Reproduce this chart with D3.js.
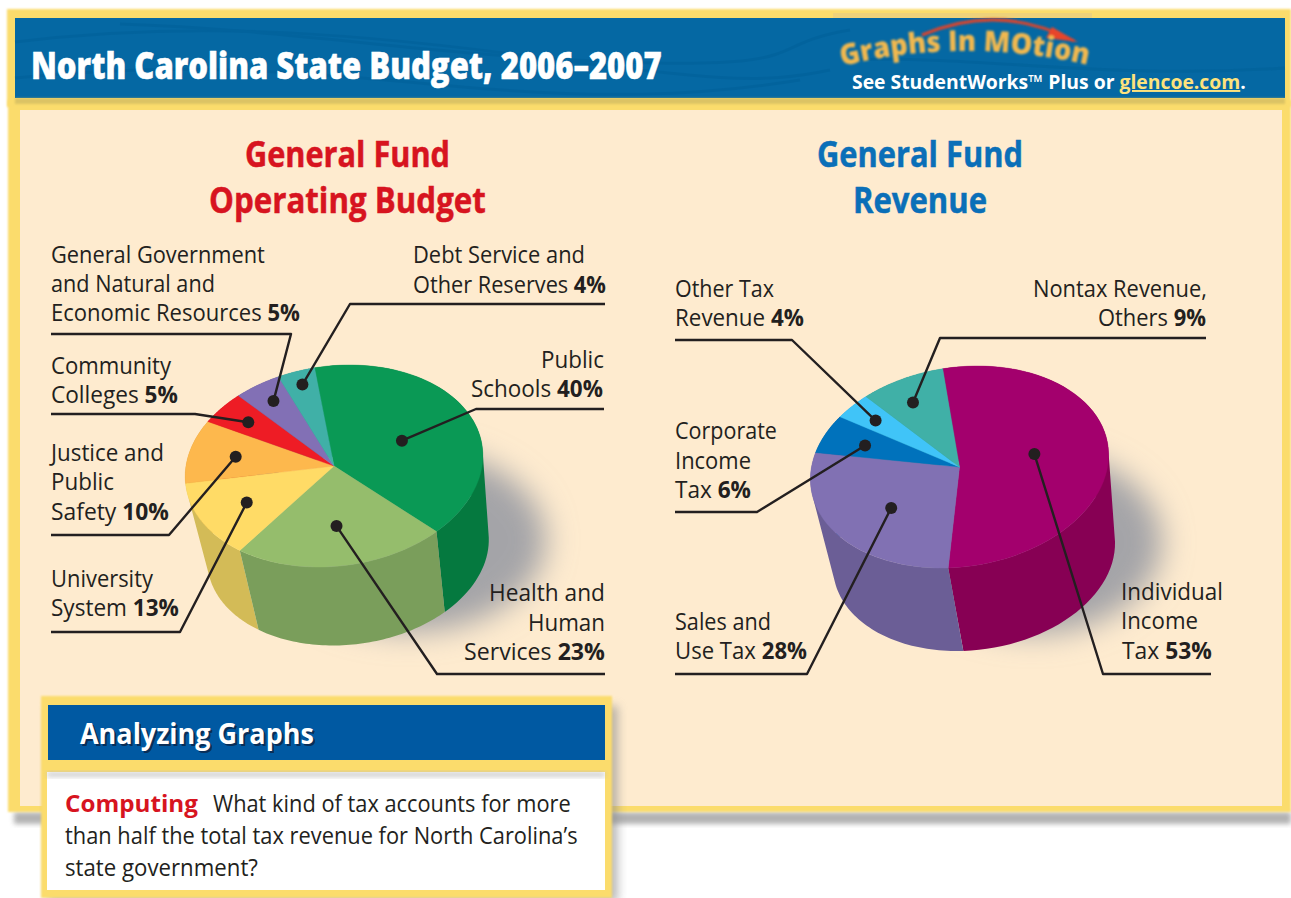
<!DOCTYPE html>
<html><head><meta charset="utf-8">
<script src="https://cdn.jsdelivr.net/npm/d3@7"></script>
<style>
html,body{margin:0;padding:0;background:#fff;overflow:hidden}
svg{display:block}
text{font-family:"Open Sans",sans-serif;fill:#231f20}
</style></head><body><svg id="c" width="1291" height="898"></svg>
<script>
// ---------- data ----------
const budgetCategories=["Public Schools","Health and Human Services","University System","Justice and Public Safety","Community Colleges","General Government and Natural and Economic Resources","Debt Service and Other Reserves"];
const budgetValues=[40,23,13,10,5,5,4];
const budgetColors=["#0a9955","#95bd6c","#ffdb66","#fdb84d","#ee1c25","#8270b5","#40b0a7"];
const budgetWalls=["#05793f","#7a9e5b","#d3bb57","#d0963e","#b5151c","#64578c","#308a83"];
const budgetLines=[["Public","Schools"],["Health and","Human","Services"],["University","System"],["Justice and","Public","Safety"],["Community","Colleges"],["General Government","and Natural and","Economic Resources"],["Debt Service and","Other Reserves"]];

const revenueCategories=["Individual Income Tax","Sales and Use Tax","Corporate Income Tax","Other Tax Revenue","Nontax Revenue, Others"];
const revenueValues=[53,28,6,4,9];
const revenueColors=["#a3006d","#8171b3","#0072bc","#40c4f8","#40b0a7"];
const revenueWalls=["#870054","#6b5e96","#005a96","#2f9cc8","#308a83"];
const revenueLines=[["Individual","Income","Tax"],["Sales and","Use Tax"],["Corporate","Income","Tax"],["Other Tax","Revenue"],["Nontax Revenue,","Others"]];

// ---------- layout ----------
const FS=23.5;
const budgetGeom={cx:334,cy:466,rx:148,ry:101,sk:15.5,bcx:348,bcy:550,brx:140,bry:95.5,bsk:15,start:-13.5,
  shadow:{cx:408,cy:540,rx:138,ry:92}};
const revenueGeom={cx:959.5,cy:467,rx:148,ry:101,sk:18,bcx:974,bcy:555,brx:140,bry:96,bsk:17,start:-13.4,
  shadow:{cx:1032,cy:542,rx:130,ry:92}};
// per slice: radial fraction and fraction along the slice's sweep for the leader dot; elbow and end of the rule
const budgetLeaders=[
 {r:.50,t:.51,path:[[476,409],[604,409]]},
 {r:.60,t:.506,path:[[437,674],[605,674]]},
 {r:.66,t:.50,path:[[180,632],[51,632]]},
 {r:.68,t:.49,path:[[169,535],[51,535]]},
 {r:.76,t:.48,path:[[195,414],[51,414]]},
 {r:.80,t:.52,path:[[291,334],[51,334]]},
 {r:.86,t:.53,path:[[350,304],[605,304]]}];
const revenueLeaders=[
 {r:.507,t:.465,path:[[1103,674],[1211,674]]},
 {r:.578,t:.477,path:[[807,674],[675,674]]},
 {r:.697,t:.44,path:[[757,512],[675,512]]},
 {r:.774,t:.46,path:[[792,340],[675,340]]},
 {r:.749,t:.44,path:[[940,338],[1206,338]]}];
// per slice, per line: [left, right, baseline]
const budgetBoxes=[
 [[541,604,368],[471,603,397]],
 [[489,605,601],[528,605,631],[464,605,660]],
 [[51,153,587],[51,179,616]],
 [[51,164,461],[51,114,490],[51,169,520]],
 [[51,171,374],[51,178,403]],
 [[51,265,263],[51,215,292],[51,300,321]],
 [[413,585,263],[413,606,293]]];
const revenueBoxes=[
 [[1121,1223,600],[1121,1198,629],[1122,1212,659]],
 [[675,771,630],[675,807,659]],
 [[675,777,439],[675,751,469],[675,751,498]],
 [[675,774,297],[675,804,326]],
 [[1033,1207,297],[1098,1206,326]]];

const svg=d3.select("#c");
const defs=svg.append("defs");
[["b1",.8],["b2",2.5],["b5",5],["b16",15],["bl",.8]].forEach(([id,s])=>{
  defs.append("filter").attr("id",id).attr("x","-30%").attr("y","-30%").attr("width","160%").attr("height","160%")
    .append("feGaussianBlur").attr("stdDeviation",s);
});

const YEL="#fbdc6c", BLUE="#0568a3", CREAM="#feebcf";
const rect=(x,y,w,h,f,flt)=>{const r=svg.append("rect").attr("x",x).attr("y",y).attr("width",w).attr("height",h).attr("fill",f);if(flt)r.attr("filter",`url(#${flt})`);return r;};

// page frame
rect(14,812,1277,12,"#9a9a9a","b2").attr("opacity",.75);
rect(8,100,1283,712,YEL,"b1");
rect(7,9,1284,98,YEL,"b1");
rect(833,13,259,8,"#efd27a");
rect(15,18,1270,80,BLUE);
const wave=svg.append("g").attr("fill","none").attr("stroke","#005f98").attr("stroke-width",3).attr("opacity",.5);
["M15,42C180,22 330,30 520,55S760,85 830,70","M120,24C300,30 420,55 620,62S760,45 850,30","M15,78C180,62 280,70 440,85S700,96 800,80","M850,60C980,55 1100,80 1285,68"].forEach(d=>wave.append("path").attr("d",d));
rect(15,98,1270,6,"#c8b45e","b1").attr("opacity",.6);
rect(20,110,1262,696,CREAM);

// helper: text fitted to a horizontal extent
function fit(parent,parts,x0,x1,y,opt={}){
  const t=parent.append("text").attr("font-size",opt.size||FS).attr("y",0).attr("x",0);
  parts.forEach(p=>{
    const s=t.append("tspan").text(p.text).attr("font-weight",p.bold?(opt.boldWeight||700):400);
    if(p.fill){s.style("fill",p.fill);if(opt.stroke)s.style("stroke",p.fill).style("stroke-width",opt.stroke);}
    if(p.underline)s.attr("text-decoration","underline");
  });
  const w=t.node().getComputedTextLength();
  t.attr("transform",`translate(${x0},${y}) scale(${(x1-x0)/w},1)`);
  return t;
}

function drawPie(g,cats,vals,cols,walls,lines,leaders,boxes){
  const pts=d3.pie().sort(null).startAngle(g.start*Math.PI/180).endAngle((g.start+360)*Math.PI/180)(vals);
  const top=(a,r=1)=>[g.cx+r*(g.rx*Math.sin(a)+g.sk*Math.cos(a)),g.cy-r*g.ry*Math.cos(a)];
  const bot=a=>[g.bcx+g.brx*Math.sin(a)+g.bsk*Math.cos(a),g.bcy-g.bry*Math.cos(a)];
  const samples=(a0,a1)=>d3.range(0,61).map(i=>a0+(a1-a0)*i/60);
  const line=d3.line();
  const root=svg.append("g");
  const sh=g.shadow;
  root.append("ellipse").attr("cx",sh.cx).attr("cy",sh.cy).attr("rx",sh.rx).attr("ry",sh.ry).attr("fill","#a4a4a8").attr("filter","url(#b16)");
  const order=pts.map((p,i)=>({p,i})).sort((a,b)=>Math.cos((b.p.startAngle+b.p.endAngle)/2)-Math.cos((a.p.startAngle+a.p.endAngle)/2));
  // each wall is a strip of quads wound the same way, so the strip's union fills the silhouette
  const wallPath=d=>{
    const s=samples(d.p.startAngle,d.p.endAngle);let out="";
    for(let k=0;k<s.length-1;k++){
      let q=[top(s[k]),top(s[k+1]),bot(s[k+1]),bot(s[k])];
      if(d3.polygonArea(q)<0)q=q.reverse();
      out+=line(q)+"Z";
    }
    return out;
  };
  root.selectAll("path.wall").data(order).join("path").attr("class","wall")
    .attr("fill",d=>walls[d.i]).attr("d",wallPath);
  root.selectAll("path.topf").data(pts).join("path").attr("class","topf")
    .attr("fill",(d,i)=>cols[i]).attr("stroke",(d,i)=>cols[i]).attr("stroke-width",.4)
    .attr("d",d=>line([[g.cx,g.cy],...samples(d.startAngle,d.endAngle).map(a=>top(a))])+"Z")
    .append("title").text((d,i)=>cats[i]);
  // leaders
  pts.forEach((p,i)=>{
    const L=leaders[i];
    const dot=top(p.startAngle+(p.endAngle-p.startAngle)*L.t,L.r);
    root.append("path").attr("d",line([dot,...L.path])).attr("fill","none").attr("stroke","#231f20").attr("stroke-width",2.4).attr("stroke-linejoin","round");
    root.append("circle").attr("cx",dot[0]).attr("cy",dot[1]).attr("r",6).attr("fill","#231f20");
    lines[i].forEach((txt,k)=>{
      const [x0,x1,y]=boxes[i][k];
      const last=k===lines[i].length-1;
      const parts=[{text:txt+(last?" ":"")}];
      if(last)parts.push({text:vals[i]+"%",bold:true});
      fit(root,parts,x0,x1,y);
    });
  });
}
drawPie(budgetGeom,budgetCategories,budgetValues,budgetColors,budgetWalls,budgetLines,budgetLeaders,budgetBoxes);
drawPie(revenueGeom,revenueCategories,revenueValues,revenueColors,revenueWalls,revenueLines,revenueLeaders,revenueBoxes);

// titles
fit(svg,[{text:"North Carolina State Budget, 2006–2007",bold:true,fill:"#fff"}],31,662,79,{size:37,boldWeight:800,stroke:.5});
const RED="#d7141f", TBLUE="#0a6fb8";
const TT={size:35,stroke:.5};
fit(svg,[{text:"General Fund",bold:true,fill:RED}],245,450,167,TT);
fit(svg,[{text:"Operating Budget",bold:true,fill:RED}],209,486,213,TT);
fit(svg,[{text:"General Fund",bold:true,fill:TBLUE}],817,1023,167,TT);
fit(svg,[{text:"Revenue",bold:true,fill:TBLUE}],853,987,213,TT);

// Graphs in Motion logo
defs.append("path").attr("id","arcText").attr("d","M842,66Q965,36 1092,66");
const logo=svg.append("g").attr("filter","url(#bl)");
logo.append("path").attr("d","M922,35Q1000,2 1074,41").attr("fill","none").attr("stroke","#d8452f").attr("stroke-width",3);
logo.append("path").attr("d","M1078,42L1052,27L1046,38Z").attr("fill","#e8452c");
logo.append("text").attr("font-size",29).attr("font-weight",800).style("fill","#f0b850")
  .append("textPath").attr("href","#arcText").attr("textLength",248).attr("lengthAdjust","spacingAndGlyphs").text("Graphs In MOtion");
fit(svg,[{text:"See StudentWorks",bold:true,fill:"#fff"},{text:"™",bold:true,fill:"#fff"},{text:" Plus or ",bold:true,fill:"#fff"},{text:"glencoe.com",bold:true,fill:"#fde27c",underline:true},{text:".",bold:true,fill:"#fff"}],852,1246,89,{size:19.5});

// analyzing box
rect(48,706,570,196,"#8d8d8d","b5").attr("opacity",.6);
rect(41,696,571,202,YEL,"b1");
rect(48,705,557,55,"#0059a2");
rect(47,772,558,118,"#fff");
rect(47,772,558,5,"#bbb","b2").attr("opacity",.7);
fit(svg,[{text:"Analyzing Graphs",bold:true,fill:"#0a2a50"}],82,316,746,{size:28}).attr("opacity",.9);
fit(svg,[{text:"Analyzing Graphs",bold:true,fill:"#fff"}],80,314,744,{size:28});
fit(svg,[{text:"Computing",bold:true,fill:"#d7141f"}],65,198,812,{size:23.5});
fit(svg,[{text:"What kind of tax accounts for more"}],213,571,812,{size:23.5});
fit(svg,[{text:"than half the total tax revenue for North Carolina’s"}],65,578,844,{size:23.5});
fit(svg,[{text:"state government?"}],65,258,876,{size:23.5});
</script></body></html>
